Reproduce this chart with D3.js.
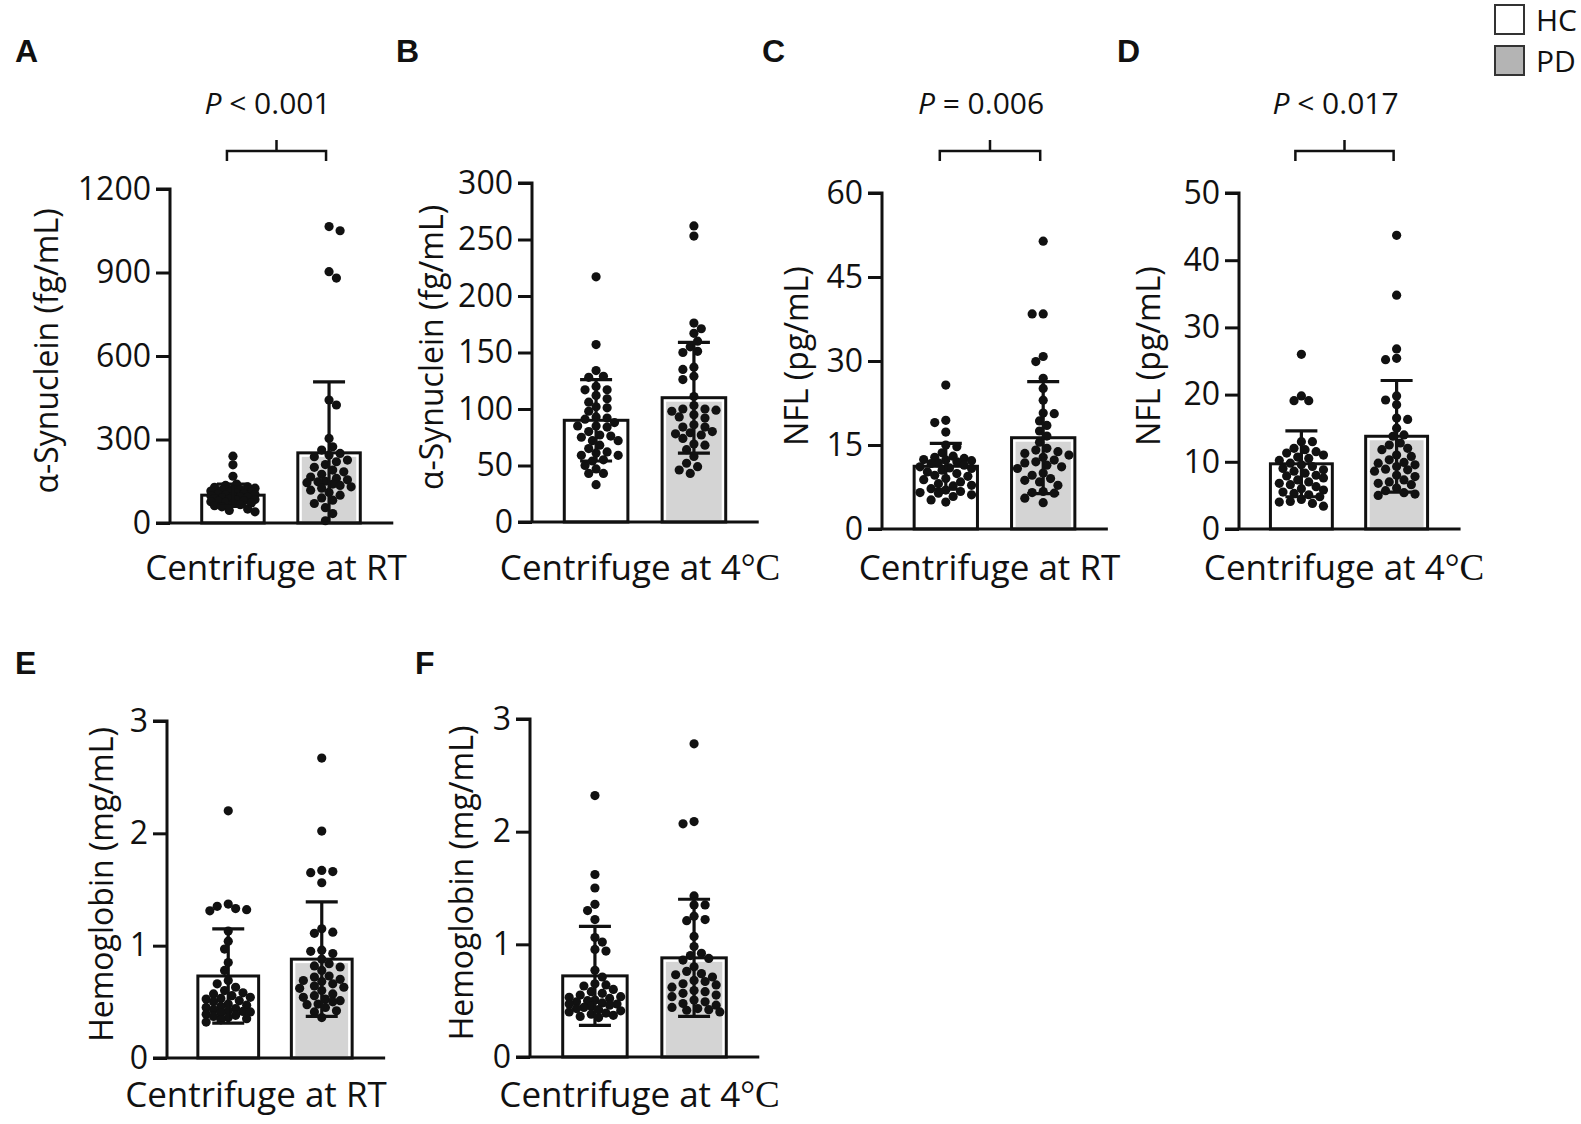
<!DOCTYPE html>
<html>
<head>
<meta charset="utf-8">
<script src="https://cdn.jsdelivr.net/npm/d3@7"></script>
<style>
  body { margin: 0; background: #fff; }
  text { font-family: "Open Sans", sans-serif; fill: #111; }
</style>
</head>
<body>
<div id="chart"></div>
<script>
// ---- data ----
const panels = ["A", "B", "C", "D", "E", "F"];
const groups = ["HC", "PD"];
const yTitles = ["α-Synuclein (fg/mL)", "α-Synuclein (fg/mL)", "NFL (pg/mL)", "NFL (pg/mL)",
    "Hemoglobin (mg/mL)", "Hemoglobin (mg/mL)"];
const xTitles = ["Centrifuge at RT", "Centrifuge at 4", "Centrifuge at RT", "Centrifuge at 4",
    "Centrifuge at RT", "Centrifuge at 4"];
const yMax = [1200, 300, 60, 50, 3, 3];
const yTicks = [
    [0, 300, 600, 900, 1200],
    [0, 50, 100, 150, 200, 250, 300],
    [0, 15, 30, 45, 60],
    [0, 10, 20, 30, 40, 50],
    [0, 1, 2, 3],
    [0, 1, 2, 3]
];
const means = [[100, 252], [90, 110], [11.2, 16.3], [9.7, 13.8], [0.73, 0.88], [0.72, 0.88]];
const sds = [[40, 255], [36, 49], [4.1, 10.0], [4.9, 8.3], [0.42, 0.51], [0.44, 0.52]];
const pLabels = [["<", "0.001"], null, ["=", "0.006"], ["<", "0.017"], null, null];

// individual samples
const hcA = [240, 209, 168, 140, 135, 130, 128, 125, 122, 120, 118, 115, 112, 110, 108, 106, 104, 102,
    100, 98, 96, 94, 92, 90, 88, 86, 84, 82, 80, 78, 76, 74, 72, 70, 66, 62, 58, 50, 45, 40];
const pdA = [1065, 1050, 903, 880, 442, 424, 304, 274, 262, 250, 244, 238, 226, 220, 210, 200, 190, 184,
    175, 165, 160, 155, 150, 148, 145, 140, 135, 130, 125, 118, 110, 100, 90, 82, 70, 55, 34, 8];
const hcB = [217, 157, 134, 129, 128, 120, 117, 117, 112, 109, 106, 102, 101, 98, 93, 92, 91, 88, 85, 85,
    84, 80, 77, 76, 75, 72, 72, 68, 65, 62, 61, 59, 59, 55, 54, 50, 47, 43, 43, 33];
const pdB = [262, 253, 176, 171, 167, 160, 155, 151, 150, 137, 135, 129, 126, 111, 103, 100, 100, 99, 98,
    95, 93, 92, 86, 84, 84, 80, 79, 78, 77, 74, 69, 68, 64, 58, 52, 49, 46, 43];
const hcC = [25.7, 19.4, 19.0, 17.3, 15.0, 14.7, 13.6, 13.0, 12.8, 12.6, 12.4, 12.3, 12.2, 12.0, 11.8,
    11.7, 11.4, 11.1, 10.9, 10.8, 10.5, 10.2, 9.9, 9.6, 9.4, 9.0, 8.8, 8.4, 8.1, 7.8, 7.7, 7.2, 6.95,
    6.7, 6.5, 6.4, 6.1, 5.8, 5.2, 4.8];
const pdC = [51.4, 38.4, 38.4, 30.8, 29.9, 26.9, 25.1, 23.0, 20.7, 20.6, 19.3, 18.5, 17.5, 16.6, 15.5,
    14.4, 14.1, 13.8, 13.5, 13.2, 12.8, 12.3, 12.0, 11.8, 11.4, 11.1, 10.8, 10.0, 9.6, 9.0, 8.7, 8.4,
    7.8, 6.7, 6.5, 6.4, 5.5, 4.7];
const hcD = [26.0, 19.8, 19.1, 19.1, 13.0, 13.0, 12.0, 11.8, 11.5, 11.3, 11.0, 10.7, 10.5, 10.2, 9.8,
    9.55, 9.3, 9.0, 8.8, 8.6, 8.3, 8.0, 7.9, 7.6, 7.3, 7.0, 6.8, 6.6, 6.3, 6.0, 5.8, 5.5, 5.3, 5.1,
    4.8, 4.4, 4.1, 4.0, 3.8, 3.4];
const pdD = [43.7, 34.8, 26.8, 25.4, 25.2, 19.8, 19.2, 18.5, 16.5, 16.3, 15.0, 14.0, 13.8, 12.8, 12.5,
    12.0, 11.8, 11.0, 10.8, 10.3, 9.9, 9.8, 9.55, 9.3, 8.9, 8.8, 8.6, 8.0, 7.8, 7.3, 7.0, 6.8, 6.6,
    6.1, 5.7, 5.4, 5.2, 5.0];
const hcE = [2.20, 1.37, 1.35, 1.33, 1.32, 1.31, 1.13, 1.04, 0.97, 0.85, 0.78, 0.69, 0.66, 0.63, 0.60,
    0.58, 0.57, 0.555, 0.54, 0.53, 0.525, 0.51, 0.50, 0.48, 0.47, 0.46, 0.45, 0.44, 0.43, 0.42, 0.415,
    0.41, 0.40, 0.39, 0.38, 0.37, 0.36, 0.35, 0.34, 0.32];
const pdE = [2.67, 2.02, 1.67, 1.66, 1.65, 1.56, 1.15, 1.12, 1.11, 0.96, 0.95, 0.93, 0.88, 0.84, 0.82,
    0.81, 0.78, 0.73, 0.72, 0.70, 0.69, 0.68, 0.66, 0.64, 0.63, 0.62, 0.60, 0.57, 0.555, 0.54, 0.525,
    0.51, 0.50, 0.48, 0.475, 0.45, 0.42, 0.41, 0.36];
const hcF = [2.32, 1.62, 1.50, 1.355, 1.30, 1.22, 1.06, 1.02, 0.955, 0.94, 0.77, 0.71, 0.65, 0.64, 0.63,
    0.60, 0.58, 0.565, 0.55, 0.535, 0.53, 0.52, 0.505, 0.50, 0.49, 0.48, 0.47, 0.47, 0.46, 0.45, 0.44,
    0.43, 0.42, 0.41, 0.40, 0.39, 0.38, 0.37, 0.36, 0.35];
const pdF = [2.78, 2.09, 2.07, 1.43, 1.35, 1.35, 1.25, 1.22, 1.21, 1.07, 0.98, 0.92, 0.90, 0.875, 0.86,
    0.80, 0.76, 0.74, 0.73, 0.71, 0.68, 0.67, 0.65, 0.64, 0.62, 0.59, 0.58, 0.565, 0.55, 0.535, 0.505,
    0.49, 0.475, 0.46, 0.44, 0.43, 0.42, 0.415, 0.40];
const samples = [[hcA, pdA], [hcB, pdB], [hcC, pdC], [hcD, pdD], [hcE, pdE], [hcF, pdF]];

// ---- layout (pixels) ----
const layout = [
    { ax: 170, top: 189, bot: 523, w: 222, lx: 15, ly: 62, tx: 58, xl: 580, xc: 0 },
    { ax: 532, top: 183, bot: 522, w: 226, lx: 396, ly: 62, tx: 443, xl: 580, xc: 0 },
    { ax: 882, top: 193, bot: 529, w: 225, lx: 762, ly: 62, tx: 808, xl: 580, xc: 0 },
    { ax: 1239, top: 193, bot: 529, w: 220, lx: 1117, ly: 62, tx: 1160, xl: 580, xc: 0 },
    { ax: 167, top: 721, bot: 1058, w: 216, lx: 15, ly: 674, tx: 113, xl: 1107, xc: -14 },
    { ax: 530, top: 719, bot: 1057, w: 229, lx: 415, ly: 674, tx: 473, xl: 1107, xc: 0 }
];
const colors = { HC: "#ffffff", PD: "#d4d4d4" };
const dotR = 4.6;

const svg = d3.select("#chart").append("svg")
    .attr("width", 1581)
    .attr("height", 1124);

svg.append("rect").attr("width", 1581).attr("height", 1124).attr("fill", "#fff");

// simple greedy beeswarm so dots don't overlap (like Prism's scatter)
function swarm(values, y, r, maxOff) {
    const pts = values.map(v => ({ v: v, y: y(v) })).sort((a, b) => b.v - a.v);
    const placed = [];
    const step = r * 0.8;
    const minD = 2 * r * 0.92;
    pts.forEach(function (p, i) {
        let best = null, bestScore = -1;
        const sign = i % 2 ? 1 : -1;
        for (let k = 0; k * step <= maxOff; k++) {
            const offs = k === 0 ? [0] : [sign * k * step, -sign * k * step];
            for (const o of offs) {
                let dmin = Infinity;
                placed.forEach(q => {
                    const d = Math.hypot(q.dx - o, q.y - p.y);
                    if (d < dmin) dmin = d;
                });
                if (dmin >= minD) { best = o; break; }
                if (dmin > bestScore) { bestScore = dmin; p.fallback = o; }
            }
            if (best !== null) break;
        }
        p.dx = best !== null ? best : p.fallback;
        placed.push(p);
    });
    return placed;
}

panels.forEach(function (name, i) {
    const L = layout[i];
    const g = svg.append("g");

    const y = d3.scaleLinear().domain([0, yMax[i]]).range([L.bot, L.top]);
    const x = d3.scaleBand().domain(groups)
        .range([L.ax, L.ax + L.w])
        .paddingInner(0.35)
        .paddingOuter(0.33);
    const bw = x.bandwidth();

    // panel letter
    g.append("text")
        .attr("x", L.lx).attr("y", L.ly)
        .style("font-family", "'Liberation Sans', Arial, sans-serif")
        .style("font-weight", "bold")
        .style("font-size", "32px")
        .text(name);

    // bars
    groups.forEach(function (grp, j) {
        g.append("rect")
            .attr("x", x(grp)).attr("y", y(means[i][j]))
            .attr("width", bw).attr("height", y(0) - y(means[i][j]))
            .attr("fill", "#fff")
            .attr("stroke", "#111").attr("stroke-width", 3);
        if (grp === "PD") {
            g.append("rect")
                .attr("x", x(grp) + 4).attr("y", y(means[i][j]) + 4)
                .attr("width", bw - 8).attr("height", y(0) - y(means[i][j]) - 6)
                .attr("fill", colors.PD);
        }
    });

    // dots
    groups.forEach(function (grp, j) {
        const cx = x(grp) + bw / 2;
        const pts = swarm(samples[i][j], y, dotR, bw / 2 - dotR - 1);
        g.selectAll(".dot" + grp)
            .data(pts)
            .enter().append("circle")
            .attr("cx", d => cx + d.dx)
            .attr("cy", d => d.y)
            .attr("r", dotR)
            .attr("fill", "#111");
    });

    // error bars (mean ± SD)
    groups.forEach(function (grp, j) {
        const cx = x(grp) + bw / 2;
        const hi = means[i][j] + sds[i][j];
        const lo = Math.max(0, means[i][j] - sds[i][j]);
        g.append("line")
            .attr("x1", cx).attr("x2", cx)
            .attr("y1", y(hi)).attr("y2", y(lo))
            .attr("stroke", "#111").attr("stroke-width", 3.2);
        [hi, lo].forEach(function (v) {
            if (v <= 0) return;
            g.append("line")
                .attr("x1", cx - 16).attr("x2", cx + 16)
                .attr("y1", y(v)).attr("y2", y(v))
                .attr("stroke", "#111").attr("stroke-width", 3.2);
        });
    });

    // y axis
    const yAxis = d3.axisLeft(y).tickValues(yTicks[i]).tickSize(14).tickPadding(5)
        .tickFormat(d3.format("d"));
    const ya = g.append("g").attr("transform", "translate(" + L.ax + ",0)").call(yAxis);
    ya.select(".domain").attr("stroke", "#111").attr("stroke-width", 3)
        .attr("d", "M-14," + L.top + "H0V" + L.bot);
    ya.selectAll(".tick line").attr("stroke", "#111").attr("stroke-width", 3);
    ya.selectAll(".tick text")
        .style("font-family", "'Open Sans', sans-serif")
        .style("font-size", "32px")
        .attr("fill", "#111");

    // x axis baseline
    g.append("line")
        .attr("x1", L.ax - 14).attr("x2", x("PD") + bw + 33)
        .attr("y1", L.bot).attr("y2", L.bot)
        .attr("stroke", "#111").attr("stroke-width", 3);

    // y title
    g.append("text")
        .attr("transform", "translate(" + L.tx + "," + ((L.top + L.bot) / 2 - 5) + ") rotate(-90)")
        .attr("text-anchor", "middle")
        .style("font-size", "32px")
        .text(yTitles[i]);

    // x title
    const xt = g.append("text")
        .attr("x", L.ax + L.w / 2 - 5 + L.xc).attr("y", L.xl)
        .attr("text-anchor", "middle")
        .style("font-size", "35px")
        .text(xTitles[i]);
    if (xTitles[i].endsWith("4")) {
        xt.append("tspan")
            .style("font-family", "'Liberation Serif', serif")
            .style("font-size", "37px")
            .text("°C");
    }

    // significance bracket
    if (pLabels[i]) {
        const x1 = x("HC") + bw / 2 - 6;
        const x2 = x("PD") + bw / 2 - 3;
        const mid = (x1 + x2) / 2;
        g.append("path")
            .attr("d", "M" + x1 + ",161V151H" + x2 + "V161M" + mid + ",151V140")
            .attr("fill", "none").attr("stroke", "#111").attr("stroke-width", 2.5);
        const pt = g.append("text")
            .attr("x", mid - 9).attr("y", 114)
            .attr("text-anchor", "middle")
            .style("font-size", "30px");
        pt.append("tspan").style("font-style", "italic").text("P");
        pt.append("tspan").text(" " + pLabels[i][0] + " " + pLabels[i][1]);
    }
});

// legend
const legend = svg.append("g");
groups.forEach(function (grp, j) {
    legend.append("rect")
        .attr("x", 1495).attr("y", 5 + j * 41)
        .attr("width", 29).attr("height", 29)
        .attr("fill", grp === "PD" ? "#b4b4b4" : "#fff")
        .attr("stroke", "#333").attr("stroke-width", 2);
    legend.append("text")
        .attr("x", 1536).attr("y", 31 + j * 41)
        .style("font-size", "30px")
        .text(grp);
});
</script>
</body>
</html>
